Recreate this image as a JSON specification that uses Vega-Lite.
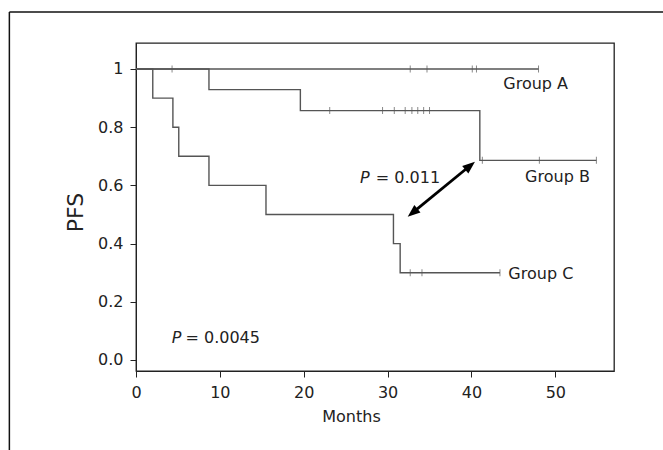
{
  "$schema": "https://vega.github.io/schema/vega-lite/v6.json",
  "width": 478,
  "height": 328,
  "autosize": {"type": "none"},
  "padding": {"left": 136, "top": 43, "right": 49, "bottom": 79},
  "background": "white",
  "config": {
    "font": "DejaVu Sans",
    "view": {"stroke": "#222", "strokeWidth": 1.3},
    "axis": {
      "grid": false,
      "domainColor": "#222",
      "tickColor": "#222",
      "labelColor": "#222",
      "titleColor": "#222",
      "labelFontSize": 16,
      "titleFontWeight": "normal",
      "labelFont": "DejaVu Sans",
      "titleFont": "DejaVu Sans"
    }
  },
  "datasets": {
    "curves": [
      {"group": "A", "month": 0, "pfs": 1},
      {"group": "A", "month": 48.0, "pfs": 1},
      {"group": "B", "month": 0, "pfs": 1},
      {"group": "B", "month": 8.7, "pfs": 0.929},
      {"group": "B", "month": 19.6, "pfs": 0.857},
      {"group": "B", "month": 41.0, "pfs": 0.686},
      {"group": "B", "month": 54.9, "pfs": 0.686},
      {"group": "C", "month": 0, "pfs": 1},
      {"group": "C", "month": 2.0, "pfs": 0.9},
      {"group": "C", "month": 4.4, "pfs": 0.8},
      {"group": "C", "month": 5.1, "pfs": 0.7},
      {"group": "C", "month": 8.7, "pfs": 0.6},
      {"group": "C", "month": 15.5, "pfs": 0.5},
      {"group": "C", "month": 30.7, "pfs": 0.4},
      {"group": "C", "month": 31.5, "pfs": 0.3},
      {"group": "C", "month": 43.4, "pfs": 0.3}
    ],
    "censors": [
      {"group": "A", "month": 4.3, "pfs": 1},
      {"group": "A", "month": 32.7, "pfs": 1},
      {"group": "A", "month": 34.7, "pfs": 1},
      {"group": "A", "month": 40.1, "pfs": 1},
      {"group": "A", "month": 40.6, "pfs": 1},
      {"group": "A", "month": 48.0, "pfs": 1},
      {"group": "B", "month": 23.1, "pfs": 0.857},
      {"group": "B", "month": 29.4, "pfs": 0.857},
      {"group": "B", "month": 30.8, "pfs": 0.857},
      {"group": "B", "month": 32.1, "pfs": 0.857},
      {"group": "B", "month": 32.9, "pfs": 0.857},
      {"group": "B", "month": 33.6, "pfs": 0.857},
      {"group": "B", "month": 34.3, "pfs": 0.857},
      {"group": "B", "month": 35.0, "pfs": 0.857},
      {"group": "B", "month": 41.3, "pfs": 0.686},
      {"group": "B", "month": 48.1, "pfs": 0.686},
      {"group": "B", "month": 54.9, "pfs": 0.686},
      {"group": "C", "month": 32.7, "pfs": 0.3},
      {"group": "C", "month": 34.1, "pfs": 0.3},
      {"group": "C", "month": 43.4, "pfs": 0.3}
    ],
    "labels": [
      {"text": "Group A", "month": 43.8, "pfs": 0.931},
      {"text": "Group B", "month": 46.4, "pfs": 0.613},
      {"text": "Group C", "month": 44.4, "pfs": 0.277},
      {"text": "= 0.011", "month": 28.6, "pfs": 0.607},
      {"text": "= 0.0045", "month": 5.9, "pfs": 0.057}
    ],
    "plabels": [
      {"text": "P", "month": 26.7, "pfs": 0.607},
      {"text": "P", "month": 4.26, "pfs": 0.057}
    ],
    "arrowline": [
      {"month": 32.96, "pfs": 0.5055, "month2": 39.86, "pfs2": 0.6683}
    ],
    "headUp": [{"month": 40.42, "pfs": 0.6814}],
    "headDown": [{"month": 32.4, "pfs": 0.4924}]
  },
  "layer": [
    {
      "data": {"name": "curves"},
      "mark": {"type": "line", "interpolate": "step-after", "color": "#555", "strokeWidth": 1.4},
      "encoding": {
        "x": {
          "field": "month", "type": "quantitative",
          "scale": {"domain": [0, 57], "nice": false, "zero": false},
          "axis": {
            "values": [0, 10, 20, 30, 40, 50], "format": "d", "title": "Months",
            "tickSize": 6, "labelPadding": 20, "labelBaseline": "alphabetic", "labelFlush": false,
            "titleX": 215, "titleY": 50, "titleBaseline": "alphabetic", "titleFontSize": 16
          }
        },
        "y": {
          "field": "pfs", "type": "quantitative",
          "scale": {"domain": [-0.0378, 1.0893], "nice": false, "zero": false},
          "axis": {
            "values": [0, 0.2, 0.4, 0.6, 0.8, 1],
            "labelExpr": "datum.value == 1 ? '1' : format(datum.value, '.1f')",
            "title": "PFS", "tickSize": 6, "labelPadding": 7, "labelBaseline": "middle",
            "titleX": -54, "titleY": 169, "titleBaseline": "alphabetic", "titleAlign": "center",
            "titleFontSize": 22, "labelFlush": false
          }
        },
        "detail": {"field": "group"}
      }
    },
    {
      "data": {"name": "censors"},
      "mark": {"type": "tick", "orient": "vertical", "color": "#555", "size": 7, "thickness": 1},
      "encoding": {
        "x": {"field": "month", "type": "quantitative"},
        "y": {"field": "pfs", "type": "quantitative"}
      }
    },
    {
      "data": {"name": "labels"},
      "mark": {"type": "text", "align": "left", "baseline": "alphabetic", "fontSize": 16, "color": "#222"},
      "encoding": {
        "x": {"field": "month", "type": "quantitative"},
        "y": {"field": "pfs", "type": "quantitative"},
        "text": {"field": "text"}
      }
    },
    {
      "data": {"name": "plabels"},
      "mark": {"type": "text", "align": "left", "baseline": "alphabetic", "fontSize": 16, "fontStyle": "italic", "color": "#222"},
      "encoding": {
        "x": {"field": "month", "type": "quantitative"},
        "y": {"field": "pfs", "type": "quantitative"},
        "text": {"field": "text"}
      }
    },
    {
      "data": {"name": "arrowline"},
      "mark": {"type": "rule", "color": "#000", "strokeWidth": 2.8},
      "encoding": {
        "x": {"field": "month", "type": "quantitative"},
        "y": {"field": "pfs", "type": "quantitative"},
        "x2": {"field": "month2"},
        "y2": {"field": "pfs2"}
      }
    },
    {
      "data": {"name": "headUp"},
      "mark": {"type": "point", "shape": "M0,0L0.85,2.2L-0.85,2.2Z", "size": 130, "filled": true, "color": "#000", "opacity": 1, "angle": 50.7},
      "encoding": {
        "x": {"field": "month", "type": "quantitative"},
        "y": {"field": "pfs", "type": "quantitative"}
      }
    },
    {
      "data": {"name": "headDown"},
      "mark": {"type": "point", "shape": "M0,0L0.85,2.2L-0.85,2.2Z", "size": 130, "filled": true, "color": "#000", "opacity": 1, "angle": 230.7},
      "encoding": {
        "x": {"field": "month", "type": "quantitative"},
        "y": {"field": "pfs", "type": "quantitative"}
      }
    },
    {
      "data": {"values": [{}]},
      "mark": {"type": "rule", "color": "#111", "strokeWidth": 1.5},
      "encoding": {
        "x": {"datum": -15.1, "type": "quantitative"},
        "y": {"datum": 1.196, "type": "quantitative"},
        "y2": {"datum": -0.6}
      }
    },
    {
      "data": {"values": [{}]},
      "mark": {"type": "rule", "color": "#111", "strokeWidth": 1.5},
      "encoding": {
        "x": {"datum": -15.1, "type": "quantitative"},
        "x2": {"datum": 75},
        "y": {"datum": 1.196, "type": "quantitative"}
      }
    }
  ]
}
